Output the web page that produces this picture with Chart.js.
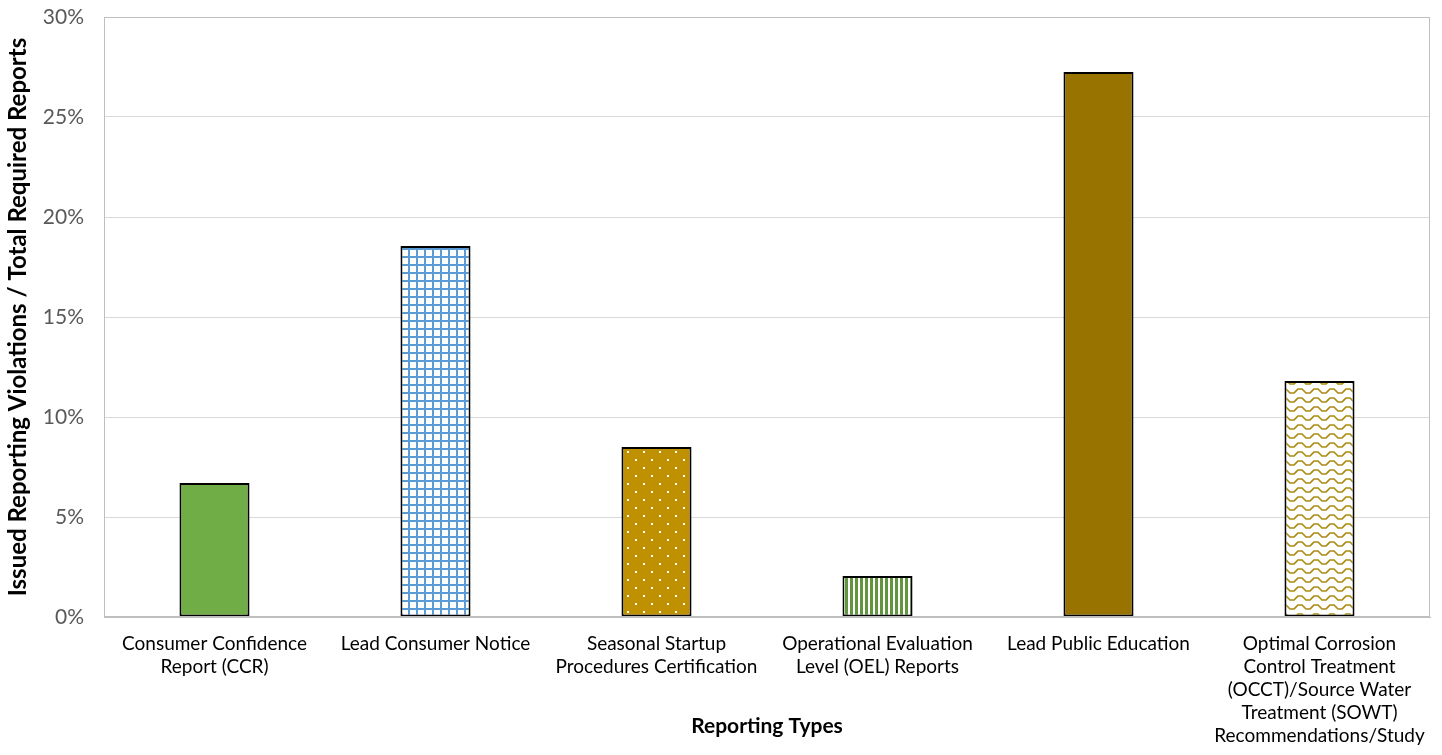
<!DOCTYPE html>
<html>
<head>
<meta charset="utf-8">
<script src="https://cdn.jsdelivr.net/npm/chart.js@4/dist/chart.umd.min.js"></script>
<style>
  html, body { margin: 0; padding: 0; background: #fff; }
  #wrap { width: 1442px; height: 755px; }
</style>
</head>
<body>
<div id="wrap"><canvas id="chart" width="1442" height="755"></canvas></div>
<script>
// chart data
const categories = [
    ['Consumer Confidence', 'Report (CCR)'],
    'Lead Consumer Notice',
    ['Seasonal Startup', 'Procedures Certification'],
    ['Operational Evaluation', 'Level (OEL) Reports'],
    'Lead Public Education',
    ['Optimal Corrosion', 'Control Treatment', '(OCCT)/Source Water', 'Treatment (SOWT)', 'Recommendations/Study']
];
const violationShare = [6.7, 18.55, 8.5, 2.05, 27.25, 11.8];
const yTicks = [0, 5, 10, 15, 20, 25, 30];

const FONT = 'Lato, "Noto Sans", sans-serif';

// little canvas fills to mimic the Excel pattern fills
function makePattern(w, h, draw) {
    const c = document.createElement('canvas');
    c.width = w;
    c.height = h;
    draw(c.getContext('2d'));
    return c.getContext('2d').createPattern(c, 'repeat');
}

const gridFill = makePattern(8, 8, g => {
    g.fillStyle = '#fff';
    g.fillRect(0, 0, 8, 8);
    g.fillStyle = '#5B9BD5';
    g.fillRect(0, 0, 8, 2);
    g.fillRect(0, 0, 2, 8);
});

const dotFill = makePattern(16, 16, g => {
    g.fillStyle = '#BF9000';
    g.fillRect(0, 0, 16, 16);
    g.fillStyle = '#fff';
    g.fillRect(3, 3, 2, 2);
    g.fillRect(11, 11, 2, 2);
});

const stripeFill = makePattern(5, 4, g => {
    g.fillStyle = '#fff';
    g.fillRect(0, 0, 5, 4);
    g.fillStyle = '#62963E';
    g.fillRect(0, 0, 3, 4);
});

const waveFill = makePattern(16, 9, g => {
    g.fillStyle = '#fff';
    g.fillRect(0, 0, 16, 9);
    g.strokeStyle = '#AD8A10';
    g.lineWidth = 1.6;
    g.beginPath();
    g.moveTo(-2, 6);
    g.lineTo(2, 2);
    g.lineTo(6, 2);
    g.lineTo(10, 6);
    g.lineTo(14, 6);
    g.lineTo(18, 2);
    g.stroke();
});

const barFills = ['#70AD47', gridFill, dotFill, stripeFill, '#997300', waveFill];

// frame around the plot area, like the Excel plot area border
const plotFrame = {
    id: 'plotFrame',
    afterDatasetsDraw(chart) {
        const a = chart.chartArea;
        const ctx = chart.ctx;
        ctx.save();
        ctx.strokeStyle = '#BFBFBF';
        ctx.lineWidth = 1;
        ctx.strokeRect(a.left + 0.5, a.top + 0.5, a.right - a.left - 1, a.bottom - a.top - 1);
        ctx.restore();
    }
};

new Chart(document.getElementById('chart'), {
    type: 'bar',
    data: {
        labels: categories,
        datasets: [{
            data: violationShare,
            backgroundColor: barFills,
            borderColor: '#000',
            borderWidth: 2,
            borderSkipped: false,
            barPercentage: 0.317,
            categoryPercentage: 1
        }]
    },
    options: {
        responsive: false,
        animation: false,
        layout: { padding: { top: 17, right: 12, bottom: 0, left: 0 } },
        plugins: {
            legend: { display: false },
            tooltip: { enabled: false }
        },
        scales: {
            x: {
                grid: { display: false },
                border: { color: '#BFBFBF' },
                ticks: {
                    color: '#000',
                    font: { family: FONT, size: 19, lineHeight: 1.22 },
                    maxRotation: 0,
                    autoSkip: false,
                    padding: 7
                },
                title: {
                    display: true,
                    text: 'Reporting Types',
                    color: '#000',
                    font: { family: FONT, size: 21, weight: 'bold' },
                    padding: { top: 10, bottom: 16 }
                },
                afterFit: s => { s.height = 138; }
            },
            y: {
                min: 0,
                max: 30,
                afterBuildTicks: s => { s.ticks = yTicks.map(v => ({ value: v })); },
                grid: { color: '#D9D9D9', drawTicks: false },
                border: { color: '#BFBFBF' },
                ticks: {
                    color: '#595959',
                    font: { family: FONT, size: 21 },
                    padding: 20,
                    callback: v => v + '%'
                },
                title: {
                    display: true,
                    text: 'Issued Reporting Violations / Total Required Reports',
                    color: '#000',
                    font: { family: FONT, size: 24, weight: 'bold' },
                    padding: { top: 4, bottom: 0 }
                },
                afterFit: s => {
                    s.width = 104;
                    s.paddingTop = 0;
                    s.paddingBottom = 0;
                }
            }
        }
    },
    plugins: [plotFrame]
});
</script>
</body>
</html>
